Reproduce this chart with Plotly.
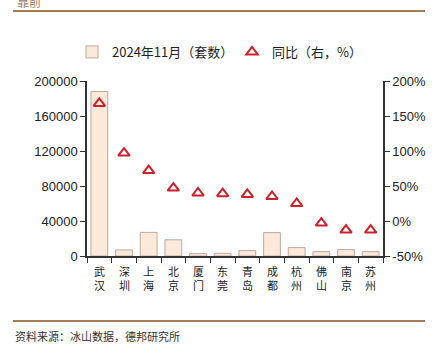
import plotly.graph_objects as go

cities = ["武汉", "深圳", "上海", "北京", "厦门", "东莞", "青岛", "成都", "杭州", "佛山", "南京", "苏州"]
units = [188000, 7000, 27000, 18500, 2700, 3000, 6200, 26700, 9600, 5000, 7300, 5000]
yoy = [168, 97, 72, 47, 40, 39, 38, 35, 25, -3, -13, -13]
left_ticks = [0, 40000, 80000, 120000, 160000, 200000]
right_ticks = [-50, 0, 50, 100, 150, 200]

W, H = 435, 353
L, R, T, B = 87, 52, 81, 97
PW, PH = W - L - R, H - T - B


def px(xp):
    return (xp - L) / PW


def py(yp):
    return (H - yp - B) / PH


fig = go.Figure()
fig.add_trace(go.Bar(
    x=cities, y=units, name="2024年11月（套数）",
    marker=dict(color="#FCE9DA", line=dict(color="#BBAAA0", width=1)),
    yaxis="y", legend="legend",
))
fig.add_trace(go.Scatter(
    x=cities, y=yoy, name="同比（右，%）", mode="markers",
    marker=dict(symbol="triangle-up-open", size=10, color="#D0202A",
                line=dict(width=2, color="#D0202A")),
    yaxis="y2", legend="legend2",
))

legfont = dict(family="Noto Sans CJK SC", size=13, color="#222222")
tickfont = dict(family="Liberation Sans, Arial", size=13, color="#222222")
fig.update_layout(
    width=W, height=H,
    margin=dict(l=L, r=R, t=T, b=B, autoexpand=False),
    paper_bgcolor="white", plot_bgcolor="white",
    bargap=0.32,
    showlegend=True,
    legend=dict(orientation="h", xref="container", yref="container",
                x=72 / W, xanchor="left", y=(H - 52) / H, yanchor="middle",
                font=legfont, itemwidth=30, bgcolor="rgba(0,0,0,0)"),
    legend2=dict(orientation="h", xref="container", yref="container",
                 x=232 / W, xanchor="left", y=(H - 52) / H, yanchor="middle",
                 font=legfont, itemwidth=30, bgcolor="rgba(0,0,0,0)"),
    xaxis=dict(
        tickmode="array", tickvals=cities, showticklabels=False,
        tickson="boundaries", ticks="outside", ticklen=5, tickcolor="#333333",
        showline=True, linecolor="#333333", linewidth=1.5,
        showgrid=False, range=[-0.5, len(cities) - 0.5],
    ),
    yaxis=dict(
        range=[0, 200000], tickvals=left_ticks, ticks="outside", ticklen=5,
        tickcolor="#333333", showline=True, linecolor="#333333", linewidth=1.5,
        showgrid=False, zeroline=False, tickfont=tickfont, tickformat="d",
    ),
    yaxis2=dict(
        range=[-50, 200], tickvals=right_ticks, ticktext=[f"{v}%" for v in right_ticks],
        overlaying="y", side="right", ticks="outside", ticklen=5,
        tickcolor="#333333", showline=True, linecolor="#333333", linewidth=1.5,
        showgrid=False, zeroline=False, tickfont=tickfont,
    ),
)

catfont = dict(family="Noto Sans CJK SC", size=11, color="#222222")
for c in cities:
    fig.add_annotation(text="<br>".join(c), xref="x", yref="paper", x=c, y=py(278),
                       xanchor="center", yanchor="middle", showarrow=False,
                       font=catfont)

brown = "#A47B5B"
for yline in (11, 321):
    fig.add_shape(type="line", xref="paper", yref="paper",
                  x0=px(13), x1=px(425), y0=py(yline), y1=py(yline),
                  line=dict(color=brown, width=2))
fig.add_annotation(text="靠前", xref="paper", yref="paper",
                   x=px(15), y=py(12), xanchor="left", yanchor="bottom", showarrow=False,
                   font=dict(family="Noto Sans CJK SC", size=12, color=brown))
fig.add_annotation(text="资料来源：冰山数据，德邦研究所", xref="paper", yref="paper",
                   x=px(13), y=py(336), xanchor="left", yanchor="middle", showarrow=False,
                   font=dict(family="Noto Sans CJK SC", size=11, color="#333333"))

fig.write_html("out.html")
